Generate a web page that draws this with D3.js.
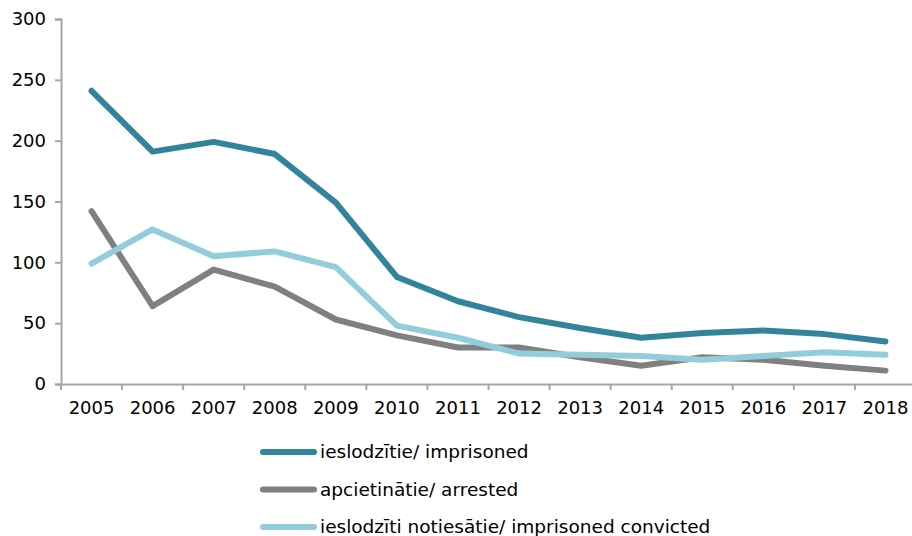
<!DOCTYPE html>
<html>
<head>
<meta charset="utf-8">
<script src="https://cdn.jsdelivr.net/npm/d3@7"></script>
<style>
  body { margin: 0; background: #fff; }
  text { font-family: "DejaVu Sans", Verdana, sans-serif; fill: #000; }
</style>
</head>
<body>
<svg id="chart" width="912" height="536"></svg>
<script>
// Data
const years = ["2005","2006","2007","2008","2009","2010","2011","2012","2013","2014","2015","2016","2017","2018"];
const imprisoned = [241, 191, 199, 189, 149, 88, 68, 55, 46, 38, 42, 44, 41, 35];
const arrested = [142, 64, 94, 80, 53, 40, 30, 30, 22, 15, 22, 20, 15, 11];
const convicted = [99, 127, 105, 109, 96, 48, 38, 25, 24, 23, 20, 23, 26, 24];
const seriesNames = ["ieslodzītie/ imprisoned", "apcietinātie/ arrested", "ieslodzīti notiesātie/ imprisoned convicted"];
const seriesColors = ["#31849b", "#808080", "#92cddc"];
const yTicks = [0, 50, 100, 150, 200, 250, 300];

const series = [imprisoned, arrested, convicted];

const svg = d3.select("#chart");
const plot = {l: 61, r: 916, t: 19, b: 384};

let x = d3.scaleBand().domain(years).range([plot.l, plot.r]);
let y = d3.scaleLinear().domain([0, 300]).range([plot.b, plot.t]);

const axisColor = "#a6a6a6";

// y axis
let yAxis = svg.append("g")
    .attr("transform", `translate(${plot.l},0)`)
    .call(d3.axisLeft(y).tickValues(yTicks).tickSize(6).tickPadding(9));
yAxis.select(".domain").attr("stroke", axisColor).attr("stroke-width", 2);
yAxis.selectAll(".tick line").attr("stroke", axisColor).attr("stroke-width", 2);
yAxis.selectAll("text").style("font-size", "18px").attr("fill", "#000")
    .attr("font-family", "DejaVu Sans");

// x axis (ticks between categories)
let xAxis = svg.append("g")
    .attr("transform", `translate(0,${plot.b})`)
    .call(d3.axisBottom(x).tickSize(0).tickPadding(17));
xAxis.select(".domain").attr("stroke", axisColor).attr("stroke-width", 2);
xAxis.selectAll("text").style("font-size", "18px").attr("fill", "#000")
    .attr("font-family", "DejaVu Sans");
xAxis.selectAll(".bound")
    .data(years)
    .enter()
    .append("line")
    .attr("x1", d => x(d))
    .attr("x2", d => x(d))
    .attr("y1", 0)
    .attr("y2", 6)
    .attr("stroke", axisColor)
    .attr("stroke-width", 2);

// lines
let line = d3.line()
    .x((d, i) => x(years[i]) + x.bandwidth() / 2)
    .y(d => y(d));

svg.selectAll(".series")
    .data(series)
    .enter()
    .append("path")
    .attr("class", "series")
    .attr("d", d => line(d))
    .attr("fill", "none")
    .attr("stroke", (d, i) => seriesColors[i])
    .attr("stroke-width", 6)
    .attr("stroke-linecap", "round")
    .attr("stroke-linejoin", "round");

// legend
let legend = svg.selectAll(".legend")
    .data(seriesNames)
    .enter()
    .append("g")
    .attr("class", "legend")
    .attr("transform", (d, i) => `translate(263, ${452 + i * 37.5})`);
legend.append("line")
    .attr("x1", 0).attr("x2", 51)
    .attr("y1", 0).attr("y2", 0)
    .attr("stroke", (d, i) => seriesColors[i])
    .attr("stroke-width", 6)
    .attr("stroke-linecap", "round");
legend.append("text")
    .attr("x", 57)
    .attr("y", 0)
    .attr("dy", "0.35em")
    .style("font-size", "18.5px")
    .text(d => d);
</script>
</body>
</html>
